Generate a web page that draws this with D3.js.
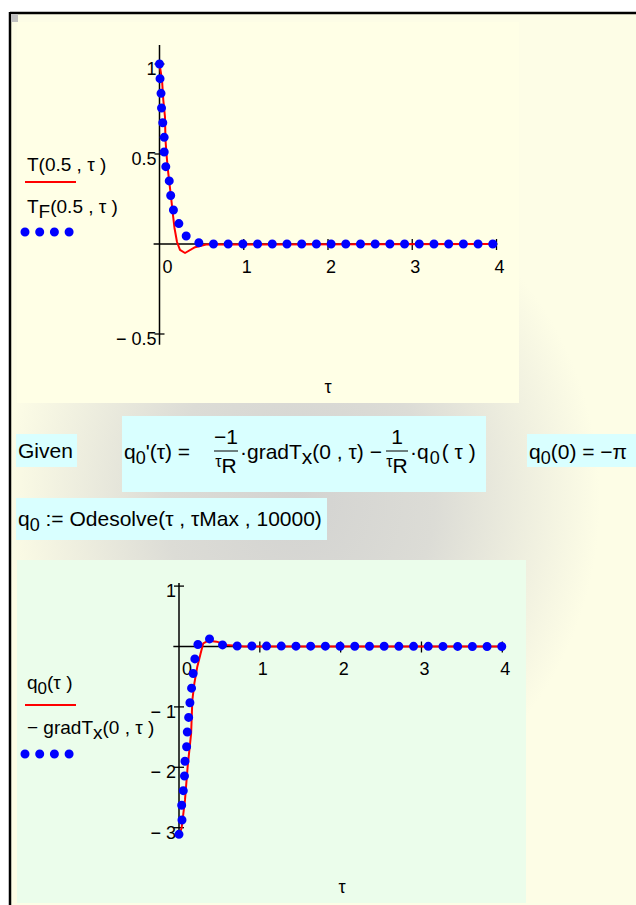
<!DOCTYPE html>
<html>
<head>
<meta charset="utf-8">
<script src="https://cdn.jsdelivr.net/npm/d3@7"></script>
<style>
  body { margin: 0; background: #fff; }
  svg { display: block; }
  text { font-family: Arial, "Liberation Sans", sans-serif; fill: #000; }
</style>
</head>
<body>
<svg id="ws" width="636" height="905"></svg>
<script>
// ---- Plot 1: temperature at x = 0.5 ----
// T(0.5, τ) – exact solution (solid red trace)
const tauT  = [0, 0.030, 0.045, 0.065, 0.071, 0.086, 0.104, 0.137, 0.160, 0.178, 0.208, 0.243, 0.303, 0.422, 0.552, 4];
const valT  = [1, 0.911, 0.800, 0.706, 0.578, 0.483, 0.394, 0.261, 0.161, 0.089, 0.011, -0.033, -0.050, -0.018, -0.003, 0];
// T_F(0.5, τ) – Fourier model (dotted blue trace)
const tauTF = [0, 0.006, 0.018, 0.024, 0.039, 0.056, 0.056, 0.075, 0.119, 0.134, 0.170, 0.234, 0.288, 0.427, 0.581, 4];
const valTF = [1, 0.921, 0.837, 0.754, 0.674, 0.591, 0.509, 0.428, 0.344, 0.263, 0.178, 0.109, 0.054, 0.009, 0, 0];
const xTicks1 = [0, 1, 2, 3, 4];
const yTicks1 = [-0.5, 0.5, 1];
const yLabels1 = ["\u2212 0.5", "0.5", "1"];

// ---- Plot 2: heat flux at x = 0 ----
// q0(τ) – Odesolve result (solid red trace)
const tauQ  = [0, 0.033, 0.074, 0.107, 0.150, 0.165, 0.190, 0.227, 0.268, 0.300, 0.363, 0.466, 0.590, 0.800, 4];
const valQ  = [-3.14, -3.00, -2.54, -1.99, -1.44, -0.89, -0.61, -0.33, -0.11, 0.053, 0.096, 0.080, 0.025, 0, 0];
// −gradTx(0, τ) (dotted blue trace)
const tauG  = [0, 0.037, 0.033, 0.053, 0.068, 0.074, 0.095, 0.103, 0.120, 0.136, 0.157, 0.177, 0.198, 0.239, 0.355, 0.479, 0.644, 4];
const valG  = [-3.11, -2.873, -2.624, -2.387, -2.144, -1.897, -1.649, -1.406, -1.164, -0.916, -0.671, -0.427, -0.185, 0.063, 0.146, 0.036, 0.008, 0];
const xTicks2 = [0, 1, 2, 3, 4];
const yTicks2 = [1, -1, -2, -3];
const yLabels2 = ["1", "\u2212 1", "\u2212 2", "\u2212 3"];

const svg = d3.select("#ws");
const defs = svg.append("defs");

// worksheet background with soft grey shading
const rg = defs.append("radialGradient")
  .attr("id", "shade").attr("gradientUnits", "userSpaceOnUse")
  .attr("cx", 300).attr("cy", 500).attr("r", 300)
  .attr("gradientTransform", "translate(300,500) scale(1,1.1) translate(-300,-500)");
rg.append("stop").attr("offset", 0).attr("stop-color", "#d3d3d1");
rg.append("stop").attr("offset", 0.45).attr("stop-color", "#dcdcd6");
rg.append("stop").attr("offset", 1).attr("stop-color", "#fdfde6");

svg.append("rect").attr("x", 0).attr("y", 0).attr("width", 636).attr("height", 905).attr("fill", "#fff");
svg.append("rect").attr("x", 10).attr("y", 13).attr("width", 626).attr("height", 892).attr("fill", "#fdfde6");
svg.append("rect").attr("x", 10).attr("y", 13).attr("width", 626).attr("height", 892).attr("fill", "url(#shade)");

// plot regions
svg.append("rect").attr("x", 17).attr("y", 22).attr("width", 502).attr("height", 381).attr("fill", "#ffffe6");
svg.append("rect").attr("x", 17).attr("y", 560).attr("width", 509).attr("height", 343).attr("fill", "#ebfdeb");

// page border and region marker
svg.append("line").attr("x1", 10).attr("x2", 636).attr("y1", 13).attr("y2", 13).attr("stroke", "#000").attr("stroke-width", 2.5);
svg.append("line").attr("x1", 10).attr("x2", 10).attr("y1", 12).attr("y2", 905).attr("stroke", "#000").attr("stroke-width", 2.5);
svg.append("rect").attr("x", 11).attr("y", 14).attr("width", 7).attr("height", 8).attr("fill", "#c0c0c0");

function plot(cfg) {
  const { x, y, xExt, yExt, xTicks, yTicks, yLabels, red, blue, tauLabel } = cfg;
  const g = svg.append("g");
  const x0 = x(0), y0 = y(0);
  // axes
  g.append("line").attr("x1", x(xExt[0])).attr("x2", x(xExt[1])).attr("y1", y0).attr("y2", y0)
    .attr("stroke", "#000").attr("stroke-width", 1.5);
  g.append("line").attr("x1", x0).attr("x2", x0).attr("y1", y(yExt[0])).attr("y2", y(yExt[1]))
    .attr("stroke", "#000").attr("stroke-width", 1.5);
  // x ticks (crossing the axis)
  g.selectAll(null).data(xTicks.filter(d => d !== 0)).join("line")
    .attr("x1", d => x(d)).attr("x2", d => x(d)).attr("y1", y0 - 5).attr("y2", y0 + 6)
    .attr("stroke", "#000").attr("stroke-width", 1.3);
  g.selectAll(null).data(xTicks).join("text")
    .attr("x", d => x(d) + (d === 0 ? 8 : 3)).attr("y", y0 + 28.5)
    .attr("text-anchor", "middle").attr("font-size", 18).text(d => d);
  // y ticks
  g.selectAll(null).data(yTicks).join("line")
    .attr("x1", x0 - 5).attr("x2", x0 + 5).attr("y1", d => y(d)).attr("y2", d => y(d))
    .attr("stroke", "#000").attr("stroke-width", 1.3);
  g.selectAll(null).data(yTicks).join("text")
    .attr("x", x0 - 3).attr("y", d => y(d) + 11)
    .attr("text-anchor", "end").attr("font-size", 18).text((d, i) => yLabels[i]);
  // axis variable
  g.append("text").attr("x", tauLabel[0]).attr("y", tauLabel[1]).attr("text-anchor", "middle")
    .attr("font-size", 18).text("\u03c4");

  const line = d3.line().x(d => x(d[0])).y(d => y(d[1]));
  g.append("path").attr("d", line(d3.zip(red[0], red[1])))
    .attr("fill", "none").attr("stroke", "#ff0000").attr("stroke-width", 2).attr("stroke-linejoin", "round");
  g.append("path").attr("d", line(d3.zip(blue[0], blue[1])))
    .attr("fill", "none").attr("stroke", "#0000ff").attr("stroke-width", 9)
    .attr("stroke-linecap", "round").attr("stroke-dasharray", "0 14.7");
  return g;
}

// Plot 1
const x1 = d3.scaleLinear().domain([0, 4]).range([159.5, 496.5]);
const y1 = d3.scaleLinear().domain([0, 1]).range([244, 64]);
plot({ x: x1, y: y1, xExt: [-0.07, 4.01], yExt: [-0.56, 1.105], xTicks: xTicks1, yTicks: yTicks1,
  yLabels: yLabels1, red: [tauT, valT], blue: [tauTF, valTF], tauLabel: [328, 393] });

// Plot 2
const x2 = d3.scaleLinear().domain([0, 4]).range([179, 502.3]);
const y2 = d3.scaleLinear().domain([0, 1]).range([646.5, 586.1]);
plot({ x: x2, y: y2, xExt: [-0.07, 4.04], yExt: [-3.09, 1.05], xTicks: xTicks2, yTicks: yTicks2,
  yLabels: yLabels2, red: [tauQ, valQ], blue: [tauG, valG], tauLabel: [342, 893] });

// legends
function legend(yText1, yLine, yText2, yDots, label1, label2) {
  const g = svg.append("g");
  label1(g.append("text").attr("x", 27).attr("y", yText1).attr("font-size", 19));
  g.append("line").attr("x1", 25).attr("x2", 76).attr("y1", yLine).attr("y2", yLine)
    .attr("stroke", "#ff0000").attr("stroke-width", 2);
  label2(g.append("text").attr("x", 27).attr("y", yText2).attr("font-size", 19));
  g.append("line").attr("x1", 25).attr("x2", 71).attr("y1", yDots).attr("y2", yDots)
    .attr("stroke", "#0000ff").attr("stroke-width", 9).attr("stroke-linecap", "round")
    .attr("stroke-dasharray", "0 14.7");
}
legend(171, 182, 213, 232,
  t => t.text("T(0.5 , \u03c4 )"),
  t => { t.append("tspan").text("T"); t.append("tspan").attr("dy", 5).text("F");
         t.append("tspan").attr("dy", -5).text("(0.5 , \u03c4 )"); });
legend(689, 705, 734, 754,
  t => { t.append("tspan").text("q"); t.append("tspan").attr("dy", 5).attr("font-size", 17).text("0");
         t.append("tspan").attr("dy", -5).text("(\u03c4 )"); },
  t => { t.append("tspan").text("\u2212 gradT"); t.append("tspan").attr("dy", 5).text("x");
         t.append("tspan").attr("dy", -5).text("(0 , \u03c4 )"); });

// ---- worksheet math regions ----
const box = (x, y, w, h) => svg.append("rect").attr("x", x).attr("y", y).attr("width", w).attr("height", h).attr("fill", "#d9ffff");
box(16, 434, 61, 33);
box(122, 416, 364, 76);
box(527, 434, 109, 33);
box(16, 498, 311, 42);

const FS = 21;
svg.append("text").attr("x", 18).attr("y", 458).attr("font-size", FS).text("Given");

// q0'(τ) = −1/τR · gradTx(0, τ) − 1/τR · q0(τ)
const base = 459;
const f = svg.append("g").attr("font-size", FS);
const t1 = f.append("text").attr("x", 124).attr("y", base);
t1.append("tspan").text("q");
t1.append("tspan").attr("dy", 5).attr("font-size", 18).text("0");
t1.append("tspan").attr("dy", -5).text("'(\u03c4) =");
function frac(cx, half, num) {
  f.append("text").attr("x", cx).attr("y", 444).attr("text-anchor", "middle").text(num);
  f.append("line").attr("x1", cx - half).attr("x2", cx + half).attr("y1", 451).attr("y2", 451)
    .attr("stroke", "#000").attr("stroke-width", 1);
  const d = f.append("text").attr("x", cx).attr("y", 467).attr("text-anchor", "middle");
  d.append("tspan").attr("font-size", 16).text("\u03c4");
  d.append("tspan").attr("dy", 6).text("R");
}
frac(226, 12, "\u22121");
const t2 = f.append("text").attr("x", 240).attr("y", base);
t2.append("tspan").text("\u00b7gradT");
t2.append("tspan").attr("dy", 5).text("x");
t2.append("tspan").attr("dy", -5).text("(0 , \u03c4) \u2212");
frac(397, 11, "1");
const t3 = f.append("text").attr("x", 410).attr("y", base);
t3.append("tspan").text("\u00b7q");
t3.append("tspan").attr("dy", 5).attr("dx", 1).attr("font-size", 18).text("0");
t3.append("tspan").attr("dy", -5).attr("dx", 2).text("( \u03c4 )");

const t4 = svg.append("text").attr("x", 529).attr("y", base).attr("font-size", FS);
t4.append("tspan").text("q");
t4.append("tspan").attr("dy", 5).attr("font-size", 18).text("0");
t4.append("tspan").attr("dy", -5).text("(0) = \u2212\u03c0");

const t5 = svg.append("text").attr("x", 18).attr("y", 526).attr("font-size", FS);
t5.append("tspan").text("q");
t5.append("tspan").attr("dy", 5).attr("font-size", 18).text("0");
t5.append("tspan").attr("dy", -5).text(" := Odesolve(\u03c4 , \u03c4Max , 10000)");
</script>
</body>
</html>
